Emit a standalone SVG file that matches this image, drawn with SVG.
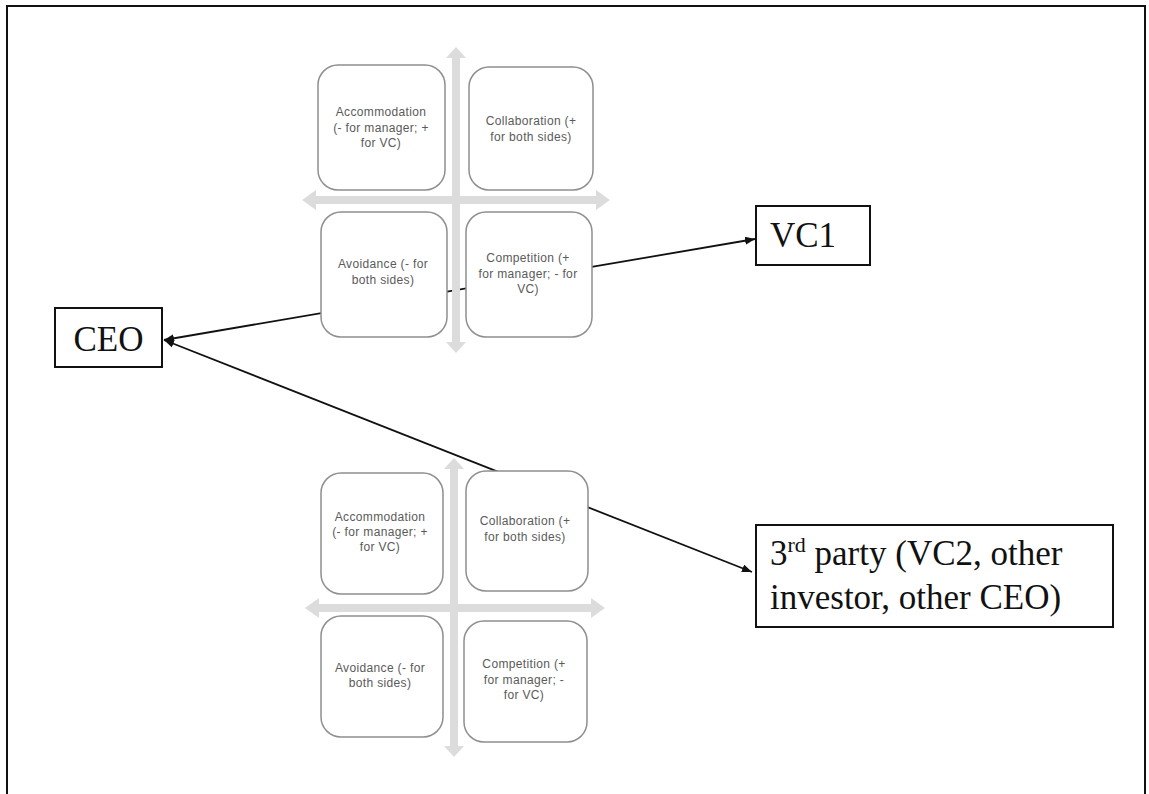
<svg xmlns="http://www.w3.org/2000/svg" width="1149" height="794" viewBox="0 0 1149 794">
  <style>
    .frame { fill: none; stroke: #111; stroke-width: 2; }
    .axis { fill: #dcdcdc; stroke: none; }
    .quad { fill: #fff; stroke: #8f8f8f; stroke-width: 1.5; }
    .qtxt { font-family: "Liberation Sans", Arial, sans-serif; font-size: 12px; letter-spacing: 0.35px; fill: #5a5a5a; text-anchor: middle; }
    .box { fill: #fff; stroke: #111; stroke-width: 2; }
    .big { font-family: "Liberation Serif", "Times New Roman", serif; font-size: 35px; fill: #111; }
    .link { fill: none; stroke: #111; stroke-width: 1.8; }
  </style>
  <defs>
    <marker id="head" viewBox="0 0 10 8" refX="10" refY="4" markerWidth="10" markerHeight="8" markerUnits="userSpaceOnUse" orient="auto-start-reverse">
      <path d="M0,0 L10,4 L0,8 Z" fill="#111"/>
    </marker>
  </defs>

  <rect width="1149" height="794" fill="#fff"/>
  <path class="frame" d="M7,800 V6 H1145 V800"/>

  <!-- connectors run underneath the two quadrant charts -->
  <g id="connectors">
    <line class="link" x1="164" y1="340" x2="755" y2="239" marker-start="url(#head)" marker-end="url(#head)"/>
    <line class="link" x1="164" y1="340" x2="752" y2="572" marker-start="url(#head)" marker-end="url(#head)"/>
  </g>

  <!-- upper conflict-style quadrant -->
  <g id="quadrant-top">
    <path class="axis" d="M452,58 L446,58 L456,47 L466,58 L460,58 L460,342 L466,342 L456,353 L446,342 L452,342 Z"/>
    <path class="axis" d="M316,196 L316,190 L302,200 L316,210 L316,204 L596,204 L596,210 L610,200 L596,190 L596,196 Z"/>
    <g id="top-accommodation">
      <rect class="quad" x="318" y="65" width="127" height="125" rx="20"/>
      <text class="qtxt" x="381" y="116">Accommodation</text>
      <text class="qtxt" x="381" y="131.5">(- for manager; +</text>
      <text class="qtxt" x="381" y="147">for VC)</text>
    </g>
    <g id="top-collaboration">
      <rect class="quad" x="469" y="67" width="124" height="123" rx="20"/>
      <text class="qtxt" x="531" y="125">Collaboration (+</text>
      <text class="qtxt" x="531" y="140.5">for both sides)</text>
    </g>
    <g id="top-avoidance">
      <rect class="quad" x="321" y="212" width="126" height="125" rx="20"/>
      <text class="qtxt" x="383" y="268">Avoidance (- for</text>
      <text class="qtxt" x="383" y="283.5">both sides)</text>
    </g>
    <g id="top-competition">
      <rect class="quad" x="466" y="212" width="126" height="125" rx="20"/>
      <text class="qtxt" x="528" y="262">Competition (+</text>
      <text class="qtxt" x="528" y="277.5">for manager; - for</text>
      <text class="qtxt" x="528" y="293">VC)</text>
    </g>
  </g>

  <!-- lower conflict-style quadrant -->
  <g id="quadrant-bottom">
    <path class="axis" d="M450,469 L444,469 L454,458 L464,469 L458,469 L458,746 L464,746 L454,757 L444,746 L450,746 Z"/>
    <path class="axis" d="M319,604 L319,598 L305,608 L319,618 L319,612 L591,612 L591,618 L605,608 L591,598 L591,604 Z"/>
    <g id="bottom-accommodation">
      <rect class="quad" x="321" y="473" width="122" height="121" rx="20"/>
      <text class="qtxt" x="380" y="521">Accommodation</text>
      <text class="qtxt" x="380" y="536">(- for manager; +</text>
      <text class="qtxt" x="380" y="551">for VC)</text>
    </g>
    <g id="bottom-collaboration">
      <rect class="quad" x="466" y="471" width="122" height="120" rx="20"/>
      <text class="qtxt" x="525" y="525">Collaboration (+</text>
      <text class="qtxt" x="525" y="540.5">for both sides)</text>
    </g>
    <g id="bottom-avoidance">
      <rect class="quad" x="321" y="616" width="122" height="121" rx="20"/>
      <text class="qtxt" x="380" y="671.5">Avoidance (- for</text>
      <text class="qtxt" x="380" y="687">both sides)</text>
    </g>
    <g id="bottom-competition">
      <rect class="quad" x="464" y="621" width="123" height="121" rx="20"/>
      <text class="qtxt" x="524" y="668">Competition (+</text>
      <text class="qtxt" x="524" y="683.5">for manager; -</text>
      <text class="qtxt" x="524" y="699">for VC)</text>
    </g>
  </g>

  <g id="ceo">
    <rect class="box" x="55" y="308" width="107" height="59"/>
    <text class="big" x="108.5" y="351" text-anchor="middle">CEO</text>
  </g>

  <g id="vc1">
    <rect class="box" x="756" y="206" width="114" height="59"/>
    <text class="big" x="770" y="247">VC1</text>
  </g>

  <g id="third-party">
    <rect class="box" x="756" y="525" width="357" height="102"/>
    <text class="big" x="770" y="565">3<tspan font-size="22" dy="-13">rd</tspan><tspan dy="13"> party (VC2, other</tspan></text>
    <text class="big" x="770" y="609">investor, other CEO)</text>
  </g>
</svg>
